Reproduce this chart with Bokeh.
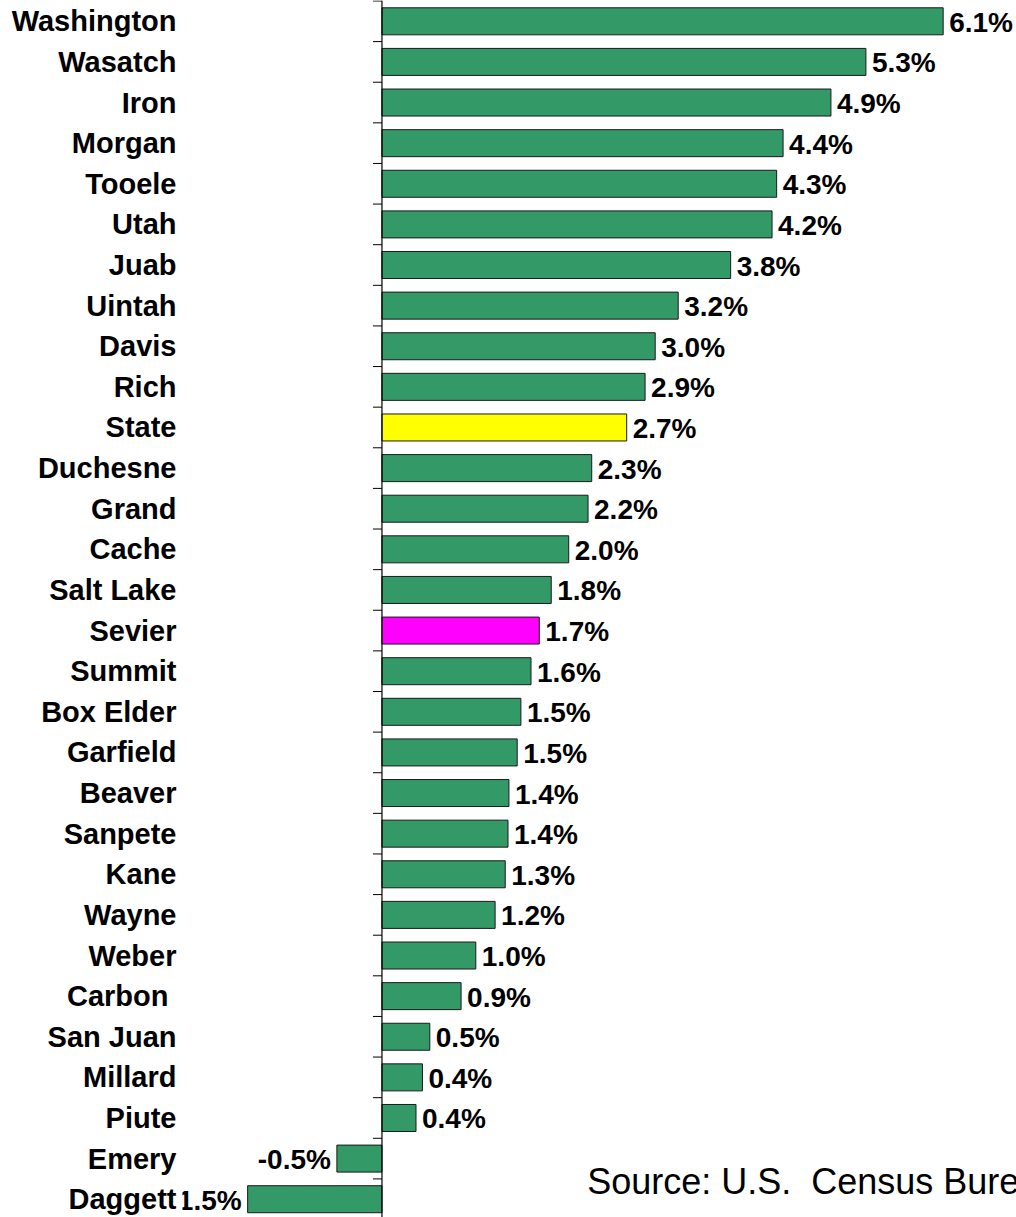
from bokeh.plotting import figure
from bokeh.models import (ColumnDataSource, Range1d, FixedTicker, LabelSet, Label, Span)
from bokeh.core.properties import value
from bokeh.embed import file_html
from bokeh.resources import INLINE

counties = ["Washington", "Wasatch", "Iron", "Morgan", "Tooele", "Utah", "Juab", "Uintah",
            "Davis", "Rich", "State", "Duchesne", "Grand", "Cache", "Salt Lake", "Sevier",
            "Summit", "Box Elder", "Garfield", "Beaver", "Sanpete", "Kane", "Wayne", "Weber",
            "Carbon ", "San Juan", "Millard", "Piute", "Emery", "Daggett"]
growth = [6.10, 5.26, 4.88, 4.36, 4.29, 4.24, 3.79, 3.22, 2.97, 2.86, 2.66, 2.28, 2.24, 2.03,
          1.84, 1.71, 1.62, 1.51, 1.47, 1.38, 1.37, 1.34, 1.23, 1.02, 0.86, 0.52, 0.44, 0.37,
          -0.49, -1.46]
value_labels = ["6.1%", "5.3%", "4.9%", "4.4%", "4.3%", "4.2%", "3.8%", "3.2%", "3.0%", "2.9%",
                "2.7%", "2.3%", "2.2%", "2.0%", "1.8%", "1.7%", "1.6%", "1.5%", "1.5%", "1.4%",
                "1.4%", "1.3%", "1.2%", "1.0%", "0.9%", "0.5%", "0.4%", "0.4%", "-0.5%", "-1.5%"]
highlight = {"State": "#FFFF00", "Sevier": "#FF00FF"}
base_color = "#339966"
source_note = "Source: U.S.\u00a0 Census Bureau"

FONT = "Liberation Sans"

pos = list(range(len(counties)))
colors = [highlight.get(c, base_color) for c in counties]

src = ColumnDataSource(dict(y=pos, v=growth, color=colors))

p = figure(width=1016, height=1217, output_backend="svg", toolbar_location=None,
           x_range=Range1d(-2.168, 6.897), y_range=Range1d(29.45, -0.512),
           min_border=0, min_border_left=182)
p.outline_line_color = None
p.xgrid.visible = False
p.ygrid.visible = False
p.xaxis.visible = False
p.background_fill_color = "white"
p.border_fill_color = "white"

p.hbar(y="y", left=0, right="v", height=0.665, source=src,
       fill_color="color", line_color="#1a1a1a", line_width=1)

# zero axis line
p.add_layout(Span(location=0, dimension="height", line_color="black", line_width=1.2))
# boundary ticks on the zero axis (pointing left)
bounds = [i + 0.5 for i in range(-1, len(counties))]
tick_len = 9 / 92.0
p.segment(x0=[-tick_len] * len(bounds), x1=[0] * len(bounds), y0=bounds, y1=bounds,
          line_color="black", line_width=1)

ax = p.yaxis[0]
ax.ticker = FixedTicker(ticks=pos)
ax.major_label_overrides = {i: c for i, c in zip(pos, counties)}
ax.axis_line_color = None
ax.major_tick_line_color = None
ax.minor_tick_line_color = None
ax.major_tick_out = 0
ax.major_tick_in = 0
ax.major_label_standoff = 6
ax.major_label_text_font = FONT
ax.major_label_text_font_style = "bold"
ax.major_label_text_font_size = "29px"
ax.major_label_text_color = "black"

pos_src = ColumnDataSource(dict(y=[y for y, v in zip(pos, growth) if v >= 0],
                                v=[v for v in growth if v >= 0],
                                t=[t for t, v in zip(value_labels, growth) if v >= 0]))
neg_src = ColumnDataSource(dict(y=[y for y, v in zip(pos, growth) if v < 0],
                                v=[v for v in growth if v < 0],
                                t=[t for t, v in zip(value_labels, growth) if v < 0]))
common = dict(text_font=value(FONT), text_font_style="bold", text_font_size="28px",
              text_color="black", text_baseline="middle")
p.add_layout(LabelSet(x="v", y="y", text="t", source=pos_src, x_offset=6, y_offset=-1,
                      text_align="left", **common))
p.add_layout(LabelSet(x="v", y="y", text="t", source=neg_src, x_offset=-6, y_offset=-1,
                      text_align="right", **common))

p.add_layout(Label(x=2.23, y=28.56, text=source_note, text_font=FONT,
                   text_font_size="36px", text_color="black",
                   text_baseline="alphabetic", text_align="left"))

open("out.html", "w").write(file_html(p, INLINE))
